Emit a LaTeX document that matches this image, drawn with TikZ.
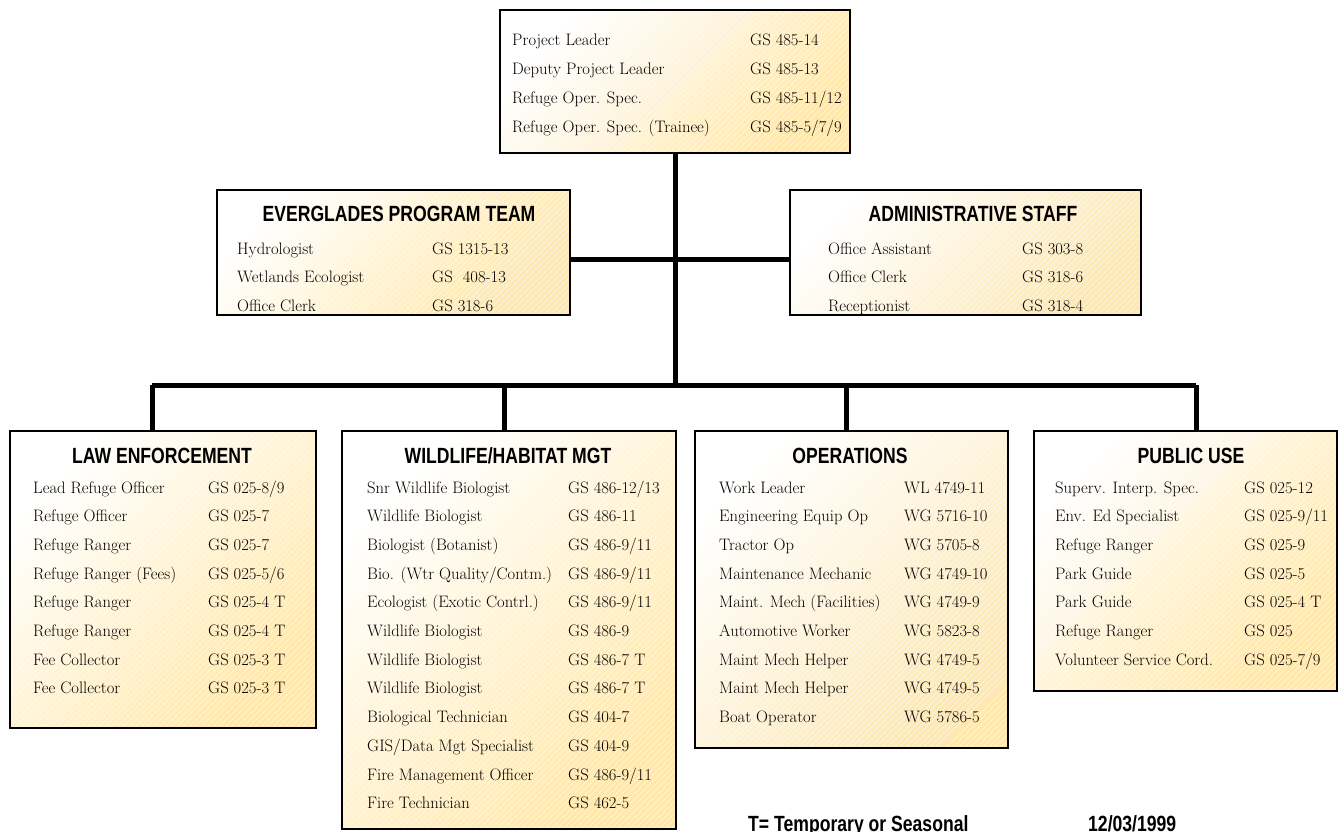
\documentclass[tikz,border=0pt]{standalone}
\usepackage{fontspec}
\newfontfamily\headfont[FakeStretch=0.8]{Liberation Sans}
\usetikzlibrary{patterns.meta}
\definecolor{boxyellow}{RGB}{255,232,175}
\newcommand\staffrows[5]{%
  \foreach \a/\b [count=\i from 0] in {#5} {
    \node[rowtext] (#1a\i) at (#2,{#4+\i*28.7}) {\a};
    \node[rowtext] (#1b\i) at (#3,{#4+\i*28.7}) {\b};
  }}
\begin{document}
\begin{tikzpicture}[x=1pt,y=-1pt,
  box/.style={left color=white, right color=boxyellow,
    shading angle=45, inner sep=0, outer sep=0, anchor=north west,
    postaction={pattern={Lines[angle=45,distance=4pt,line width=0.4pt]}, pattern color=white},
    postaction={draw=black, line width=1.6pt}},
  heading/.style={font=\headfont\bfseries\fontsize{22}{24}\selectfont, anchor=base, inner sep=0},
  rowtext/.style={font=\fontsize{16.6}{20}\selectfont, anchor=base west, inner sep=0},
  conn/.style={line width=5pt, draw=black}]
\useasboundingbox (0,0) rectangle (1339,832);
\fill[white] (0,0) rectangle (1339,832);

% connector points
\coordinate (spine) at (675,385);
\coordinate (busL) at (152,385);
\coordinate (busR) at (1196,385);
\coordinate (d2) at (504,385);
\coordinate (d3) at (846,385);

% boxes
\node[box, minimum width=350pt, minimum height=143pt] (top) at (500,10) {};
\node[box, minimum width=353pt, minimum height=125pt] (evg) at (217,190) {};
\node[box, minimum width=351pt, minimum height=125pt] (adm) at (790,190) {};
\node[box, minimum width=306pt, minimum height=297pt] (law) at (10,431) {};
\node[box, minimum width=334pt, minimum height=398pt] (wld) at (342,431) {};
\node[box, minimum width=313pt, minimum height=317pt] (ops) at (695,431) {};
\node[box, minimum width=303pt, minimum height=260pt] (pub) at (1034,431) {};

\draw[conn] (top.south -| spine) -- (spine);
\draw[conn] (evg.east |- 0,259) -- (adm.west |- 0,259);
\draw[conn] (busL) -- (busR);
\draw[conn] (busL) -- (busL |- law.north);
\draw[conn] (d2) -- (d2 |- wld.north);
\draw[conn] (d3) -- (d3 |- ops.north);
\draw[conn] (busR) -- (busR |- pub.north);

% headings
\node[heading] (evgh) at (399,222) {EVERGLADES PROGRAM TEAM};
\node[heading] (admh) at (973,222) {ADMINISTRATIVE STAFF};
\node[heading] (lawh) at (162,463) {LAW ENFORCEMENT};
\node[heading] (wldh) at (508,463) {WILDLIFE/HABITAT MGT};
\node[heading] (opsh) at (850,463) {OPERATIONS};
\node[heading] (pubh) at (1191,463) {PUBLIC USE};

% rows
\staffrows{t}{512}{750}{46}{{Project Leader}/{GS 485-14},{Deputy Project Leader}/{GS 485-13},{Refuge Oper. Spec.}/{GS 485-11/12},{Refuge Oper. Spec. (Trainee)}/{GS 485-5/7/9}}
\staffrows{e}{237}{432}{254}{{Hydrologist}/{GS 1315-13},{Wetlands Ecologist}/{GS\ \ 408-13},{Office Clerk}/{GS 318-6}}
\staffrows{s}{828}{1022}{254}{{Office Assistant}/{GS 303-8},{Office Clerk}/{GS 318-6},{Receptionist}/{GS 318-4}}
\staffrows{l}{33}{208}{493}{{Lead Refuge Officer}/{GS 025-8/9},{Refuge Officer}/{GS 025-7},{Refuge Ranger}/{GS 025-7},{Refuge Ranger (Fees)}/{GS 025-5/6},{Refuge Ranger}/{GS 025-4 T},{Refuge Ranger}/{GS 025-4 T},{Fee Collector}/{GS 025-3 T},{Fee Collector}/{GS 025-3 T}}
\staffrows{w}{367}{568}{493}{{Snr Wildlife Biologist}/{GS 486-12/13},{Wildlife Biologist}/{GS 486-11},{Biologist (Botanist)}/{GS 486-9/11},{Bio. (Wtr Quality/Contm.)}/{GS 486-9/11},{Ecologist (Exotic Contrl.)}/{GS 486-9/11},{Wildlife Biologist}/{GS 486-9},{Wildlife Biologist}/{GS 486-7 T},{Wildlife Biologist}/{GS 486-7 T},{Biological Technician}/{GS 404-7},{GIS/Data Mgt Specialist}/{GS 404-9},{Fire Management Officer}/{GS 486-9/11},{Fire Technician}/{GS 462-5}}
\staffrows{o}{719}{904}{493}{{Work Leader}/{WL 4749-11},{Engineering Equip Op}/{WG 5716-10},{Tractor Op}/{WG 5705-8},{Maintenance Mechanic}/{WG 4749-10},{Maint. Mech (Facilities)}/{WG 4749-9},{Automotive Worker}/{WG 5823-8},{Maint Mech Helper}/{WG 4749-5},{Maint Mech Helper}/{WG 4749-5},{Boat Operator}/{WG 5786-5}}
\staffrows{p}{1055}{1244}{493}{{Superv. Interp. Spec.}/{GS 025-12},{Env. Ed Specialist}/{GS 025-9/11},{Refuge Ranger}/{GS 025-9},{Park Guide}/{GS 025-5},{Park Guide}/{GS 025-4 T},{Refuge Ranger}/{GS 025},{Volunteer Service Cord.}/{GS 025-7/9}}

% footer
\node[heading, anchor=base west] (note) at (748,831) {T= Temporary or Seasonal};
\node[heading, anchor=base west] (date) at (1088,831) {12/03/1999};
\end{tikzpicture}
\end{document}
